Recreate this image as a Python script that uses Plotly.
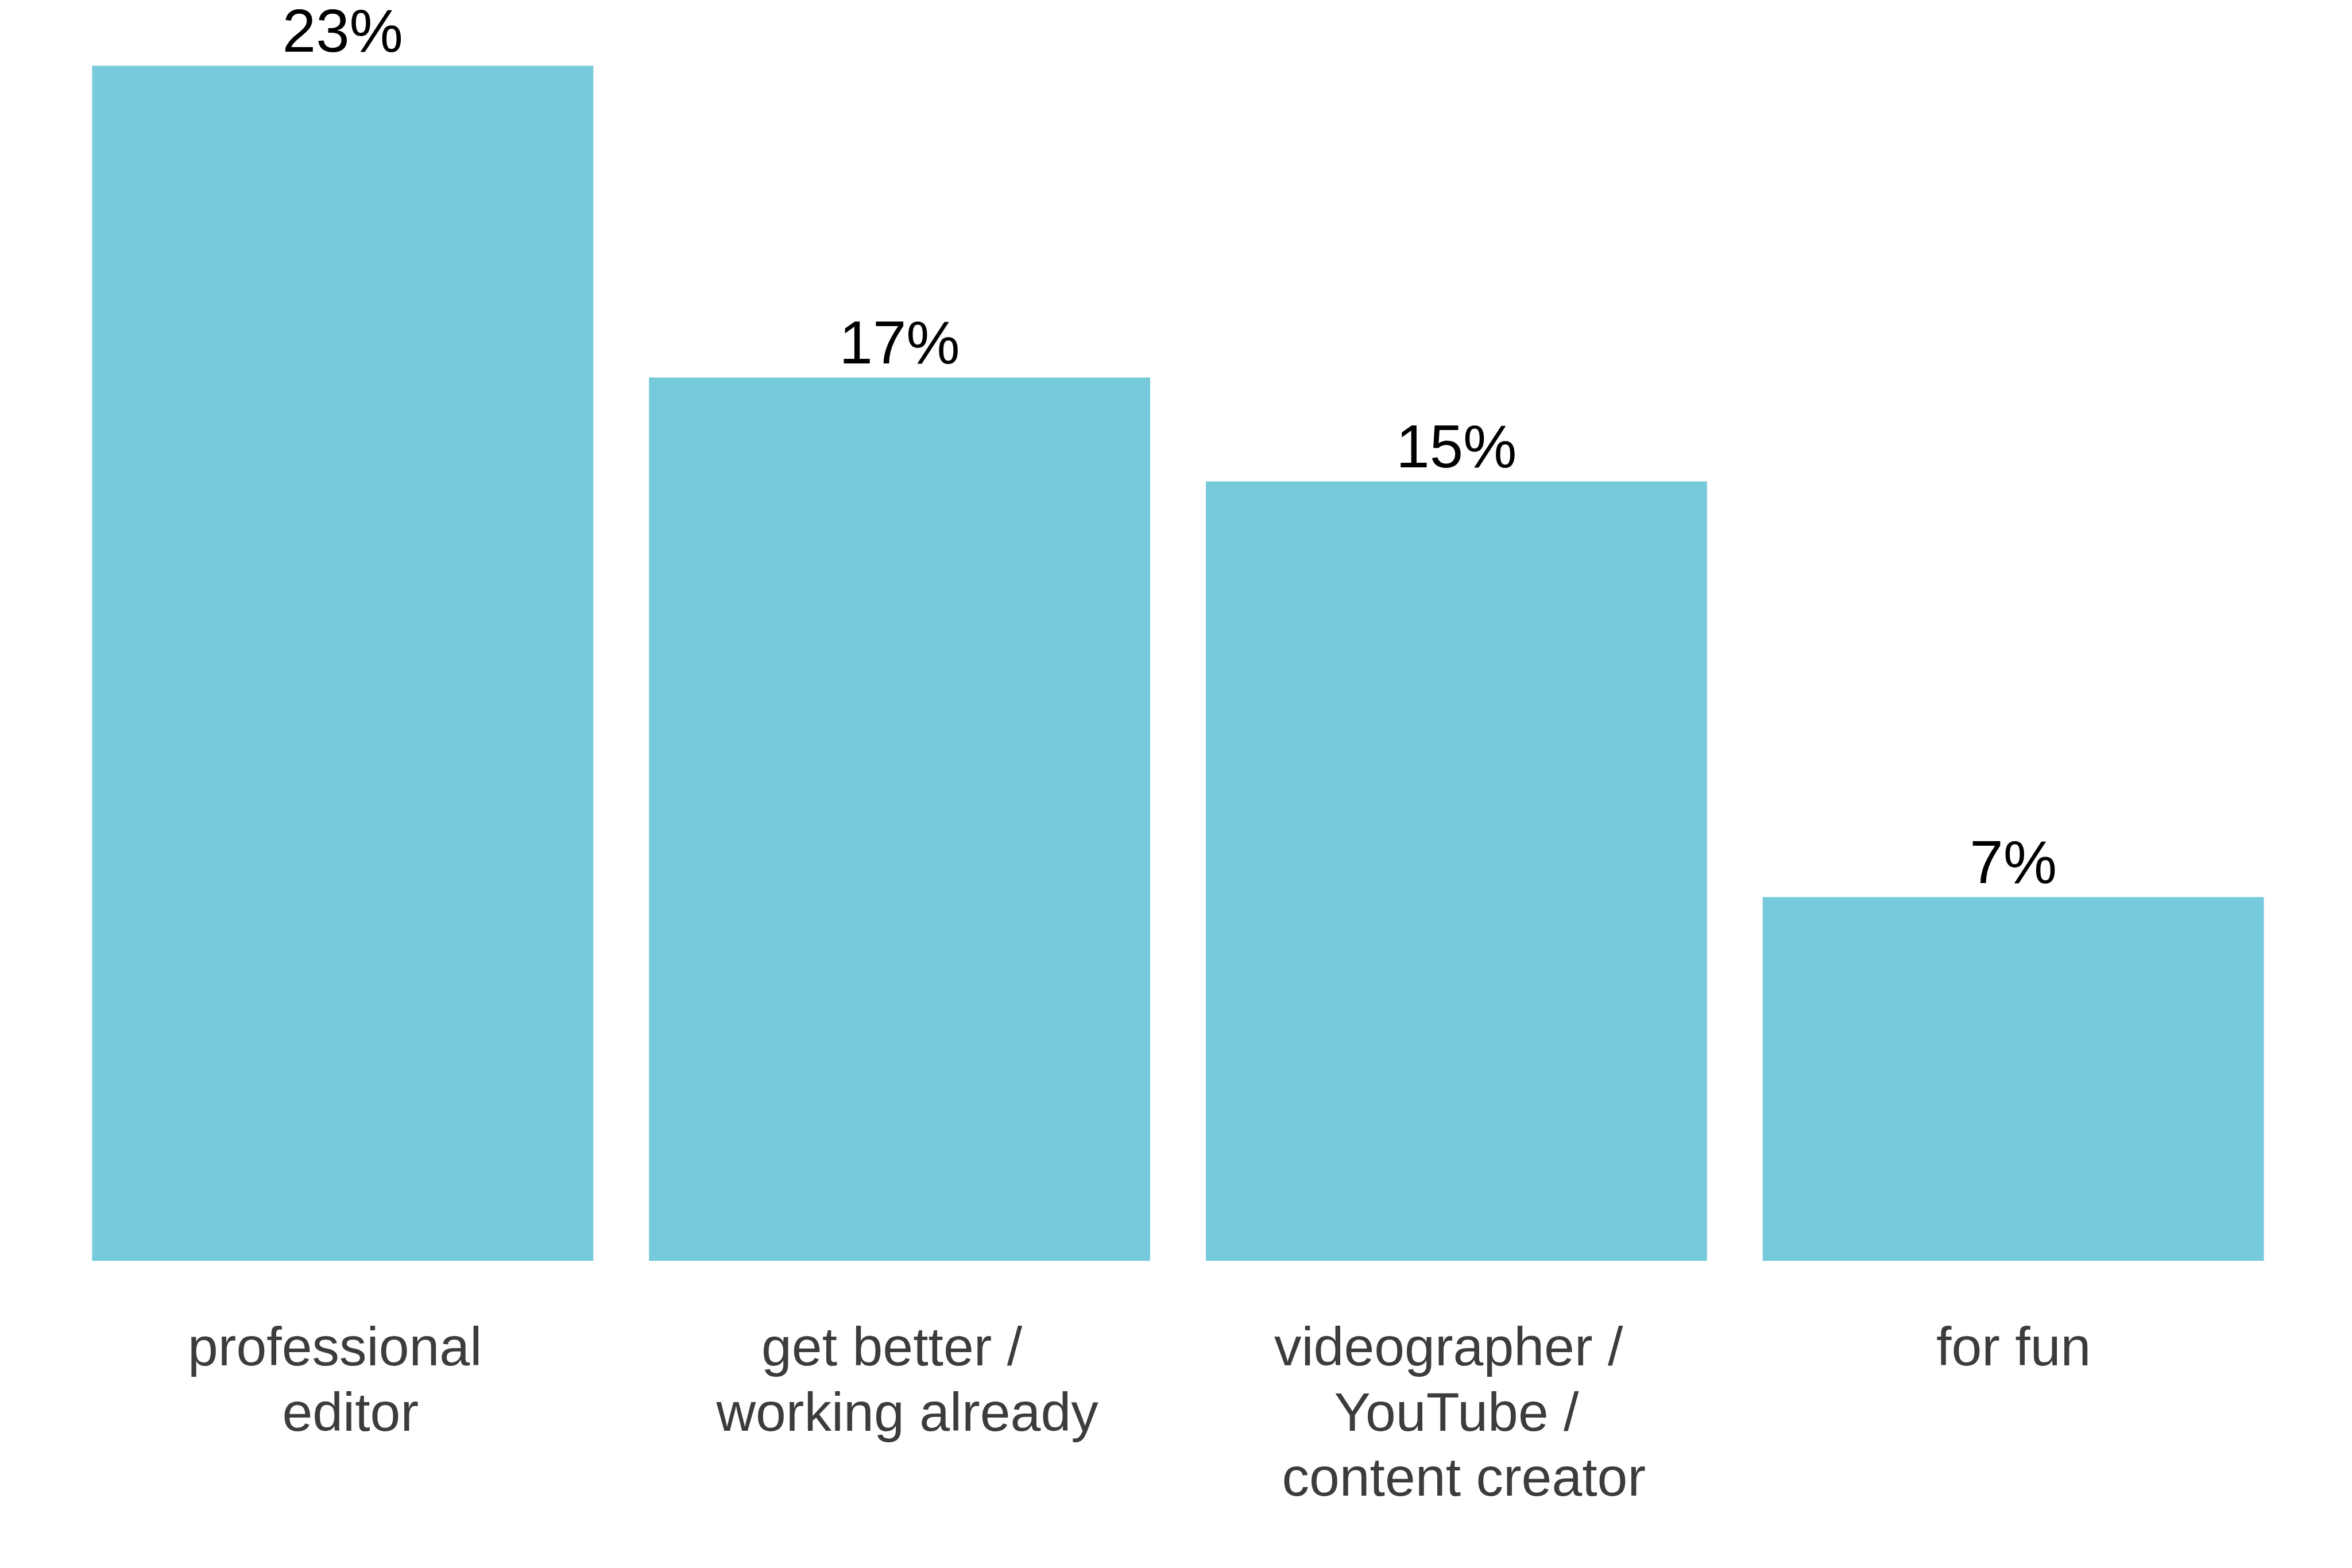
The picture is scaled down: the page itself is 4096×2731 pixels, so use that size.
import plotly.graph_objects as go

NBSP = "\u00a0"
# category labels, one list of lines per bar
category_lines = [
    ["professional ", " editor"],
    ["get better / ", " working already"],
    ["videographer / ", " YouTube / ", " content creator"],
    ["for fun"],
]
categories = ["professional editor", "get better / working already",
              "videographer / YouTube / content creator", "for fun"]
values = [23, 17, 15, 7]
value_labels = ["23%", "17%", "15%", "7%"]

bar_color = "#77CADB"
FONT = "Liberation Sans, Arial, sans-serif"

fig = go.Figure(
    go.Bar(
        x=categories,
        y=values,
        text=value_labels,
        textposition="outside",
        textfont=dict(family=FONT, size=105, color="#000000"),
        constraintext="none",
        cliponaxis=False,
        marker=dict(color=bar_color, line=dict(width=0)),
        hoverinfo="skip",
    )
)

LINE_STEP = 113.5
FIRST_SHIFT = 94
for cat, lines in zip(categories, category_lines):
    for j, line in enumerate(lines):
        fig.add_annotation(
            x=cat, y=0, xref="x", yref="y",
            text=line.replace(" ", NBSP),
            showarrow=False,
            xanchor="center", yanchor="top",
            yshift=-(FIRST_SHIFT + j * LINE_STEP),
            font=dict(family=FONT, size=95, color="#3c3c3c"),
        )

fig.update_layout(
    width=4096,
    height=2731,
    margin=dict(l=112, r=105, t=24, b=535),
    paper_bgcolor="white",
    plot_bgcolor="white",
    bargap=0.1,
    showlegend=False,
    font=dict(family=FONT),
)
fig.update_xaxes(
    showgrid=False,
    zeroline=False,
    showline=False,
    ticks="",
    showticklabels=False,
)
fig.update_yaxes(
    range=[0, 24],
    showgrid=False,
    zeroline=False,
    showline=False,
    showticklabels=False,
    ticks="",
)

fig.write_html("out.html")
